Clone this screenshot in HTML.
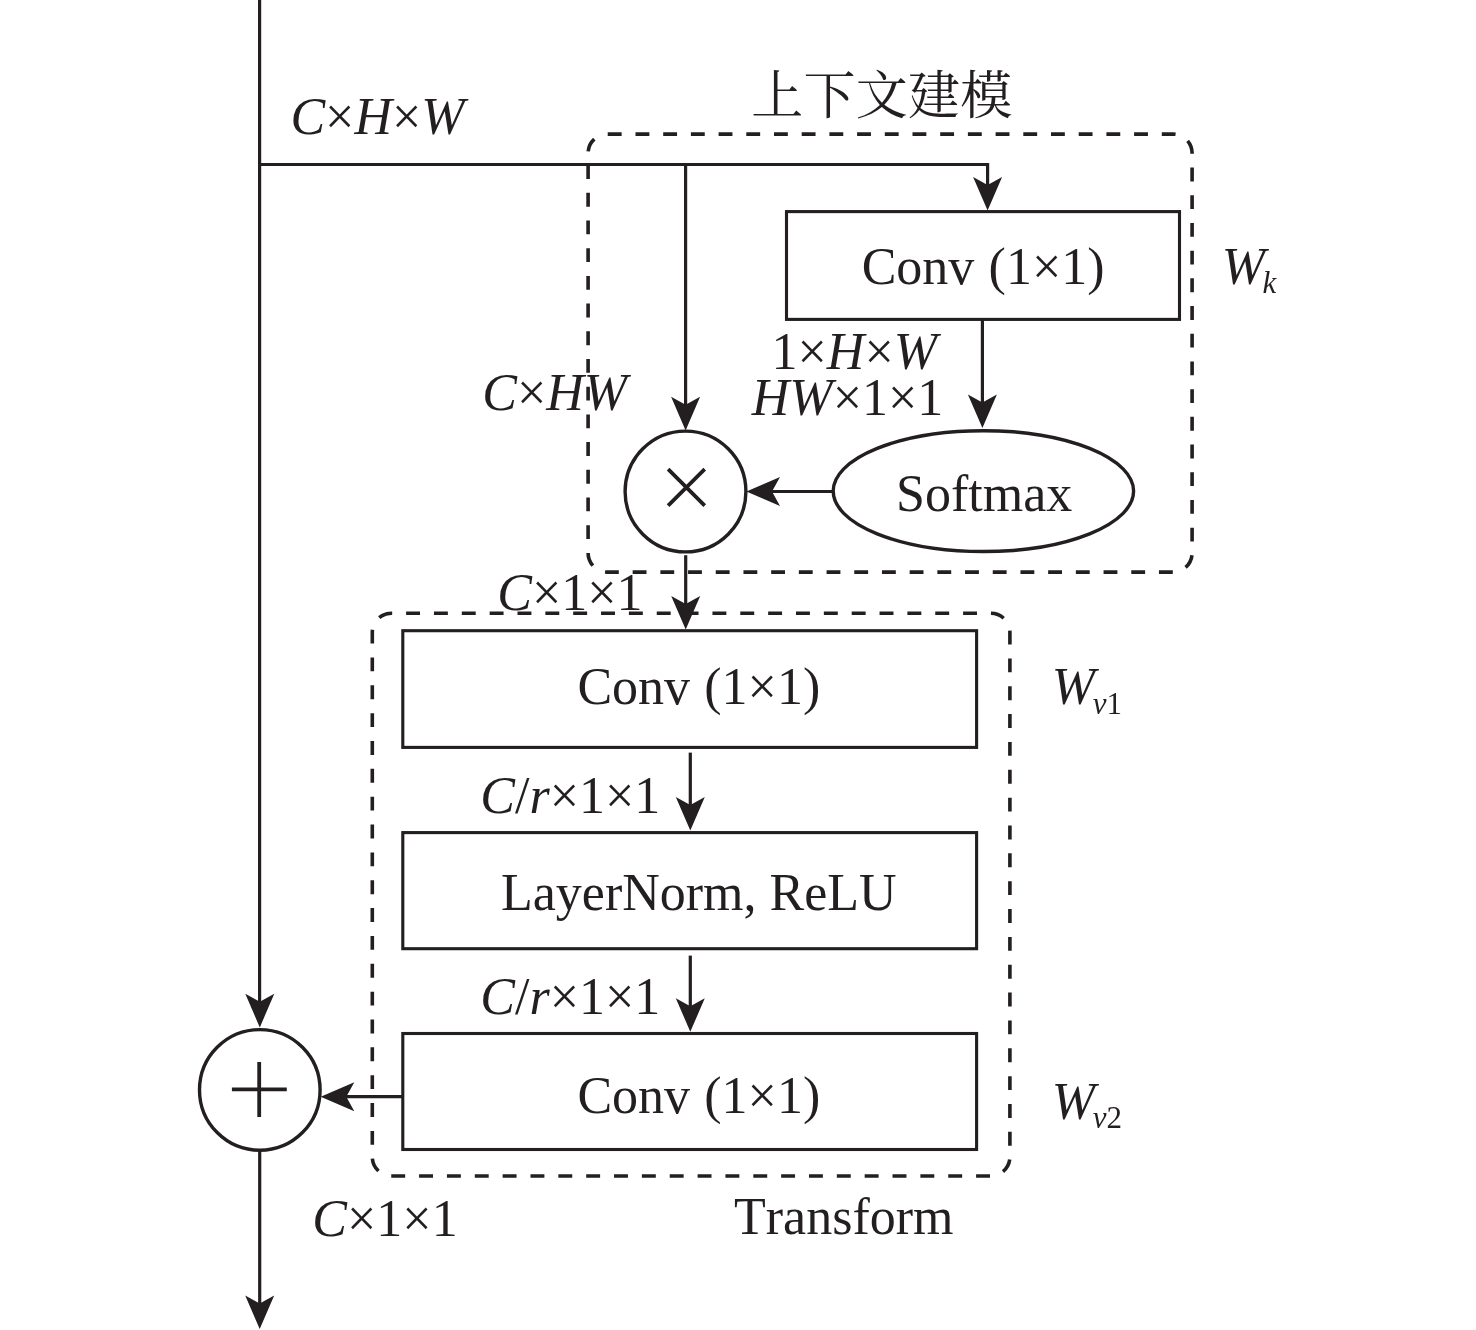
<!DOCTYPE html>
<html lang="zh"><head><meta charset="utf-8"><title>GC block</title>
<style>
html,body{margin:0;padding:0;background:#fff;}
body{width:1476px;height:1330px;overflow:hidden;}
svg{display:block;will-change:transform;}
text{font-family:"Liberation Serif","Noto Serif CJK SC",serif;fill:#231f20;font-size:52px;font-kerning:none;}
.i{font-style:italic;}
.s{font-size:31px;}
.cj{font-family:"Noto Serif CJK SC","Liberation Serif",serif;font-weight:400;letter-spacing:0.25px;}
</style></head>
<body>
<svg width="1476" height="1330" viewBox="0 0 1476 1330">

<g fill="none" stroke="#231f20" stroke-width="3.2">
<path d="M259.6,-2 V1005"/>
<path d="M259.6,164.5 H987.6 V190"/>
<path d="M685.6,164.5 V410"/>
<path d="M982.4,319.5 V408"/>
<path d="M832,491.5 H770"/>
<path d="M685.7,555.2 V610"/>
<path d="M690.3,752.6 V810"/>
<path d="M690.3,955.6 V1012"/>
<path d="M402.8,1096.7 H345"/>
<path d="M259.7,1150 V1308"/>
<rect x="786.5" y="211.6" width="393.0" height="107.8" stroke-width="3.1"/>
<rect x="402.8" y="630.7" width="573.8" height="116.7" stroke-width="3.1"/>
<rect x="402.8" y="832.6" width="573.8" height="116.1" stroke-width="3.1"/>
<rect x="402.8" y="1033.5" width="573.8" height="116.0" stroke-width="3.1"/>
<circle cx="685.5" cy="491.5" r="60.4" stroke-width="3.4"/>
<ellipse cx="983.4" cy="491.1" rx="150.2" ry="60.4" stroke-width="3.4"/>
<circle cx="259.8" cy="1089.9" r="60.3" stroke-width="3.4"/>
<path d="M668.1,469.1 L704.7,505.7 M704.7,469.1 L668.1,505.7" stroke-width="3.8"/>
<path d="M231.9,1089.4 H286.8 M259.2,1062 V1117" stroke-width="3.8"/>
</g>
<g fill="none" stroke="#231f20" stroke-width="3.6">
<path d="M607.1,134.1 H1173.1 A19,19 0 0 1 1192.1,153.1 V553.1 A19,19 0 0 1 1173.1,572.1 H607.1 A19,19 0 0 1 588.1,553.1 V153.1 A19,19 0 0 1 607.1,134.1 Z" stroke-dasharray="13.85 13.85" stroke-dashoffset="27.0"/>
<path d="M391.3,613.3 H990.9 A19,19 0 0 1 1009.9,632.3 V1157.0 A19,19 0 0 1 990.9,1176.0 H391.3 A19,19 0 0 1 372.3,1157.0 V632.3 A19,19 0 0 1 391.3,613.3 Z" stroke-dasharray="13.92 13.93" stroke-dashoffset="13.05"/>
</g>
<path d="M0,0 L-14.5,-33.6 L0,-25.6 L14.5,-33.6 Z" fill="#231f20" transform="translate(987.6,210.6)"/>
<path d="M0,0 L-14.5,-33.6 L0,-25.6 L14.5,-33.6 Z" fill="#231f20" transform="translate(685.6,430.4)"/>
<path d="M0,0 L-14.5,-33.6 L0,-25.6 L14.5,-33.6 Z" fill="#231f20" transform="translate(982.4,428.0)"/>
<path d="M0,0 L-14.5,-33.6 L0,-25.6 L14.5,-33.6 Z" fill="#231f20" transform="translate(746.4,491.5) rotate(90)"/>
<path d="M0,0 L-14.5,-33.6 L0,-25.6 L14.5,-33.6 Z" fill="#231f20" transform="translate(685.7,629.6)"/>
<path d="M0,0 L-14.5,-33.6 L0,-25.6 L14.5,-33.6 Z" fill="#231f20" transform="translate(690.3,830.6)"/>
<path d="M0,0 L-14.5,-33.6 L0,-25.6 L14.5,-33.6 Z" fill="#231f20" transform="translate(690.3,1031.8)"/>
<path d="M0,0 L-14.5,-33.6 L0,-25.6 L14.5,-33.6 Z" fill="#231f20" transform="translate(320.7,1096.7) rotate(90)"/>
<path d="M0,0 L-14.5,-33.6 L0,-25.6 L14.5,-33.6 Z" fill="#231f20" transform="translate(259.8,1027.4)"/>
<path d="M0,0 L-14.5,-33.6 L0,-25.6 L14.5,-33.6 Z" fill="#231f20" transform="translate(259.7,1329.0)"/>
<text x="290.4" y="133.9"><tspan class="i">C</tspan>×<tspan class="i">H</tspan>×<tspan class="i">W</tspan></text>
<text x="751.3" y="114.3" class="cj">上下文建模</text>
<text x="861.7" y="283.7">Conv <tspan dx="1.2">(1×1)</tspan></text>
<text x="1221.8" y="284.2" class="i">W</text>
<text x="1262.4" y="293.3" class="i s">k</text>
<text x="771.5" y="368.9">1×<tspan class="i">H</tspan>×<tspan class="i">W</tspan></text>
<text x="751.8" y="415.4"><tspan class="i">HW</tspan>×1×1</text>
<text x="482.3" y="409.8"><tspan class="i">C</tspan>×<tspan class="i">HW</tspan></text>
<text x="896.0" y="510.7">Softmax</text>
<text x="497.2" y="609.9"><tspan class="i">C</tspan>×1×1</text>
<text x="577.4" y="703.6">Conv <tspan dx="1.2">(1×1)</tspan></text>
<text x="1051.8" y="704.2" class="i">W</text>
<text x="1092.7" y="713.7" class="s"><tspan class="i">v</tspan>1</text>
<text x="480.3" y="812.8"><tspan class="i">C</tspan>/<tspan class="i">r</tspan>×1×1</text>
<text x="501.0" y="910.0">LayerNorm, ReLU</text>
<text x="480.3" y="1013.7"><tspan class="i">C</tspan>/<tspan class="i">r</tspan>×1×1</text>
<text x="577.4" y="1112.6">Conv <tspan dx="1.2">(1×1)</tspan></text>
<text x="1051.8" y="1119.2" class="i">W</text>
<text x="1092.7" y="1127.6" class="s"><tspan class="i">v</tspan>2</text>
<text x="312.3" y="1236.4"><tspan class="i">C</tspan>×1×1</text>
<text x="734.0" y="1234.0">Transform</text>
</svg>
</body></html>
